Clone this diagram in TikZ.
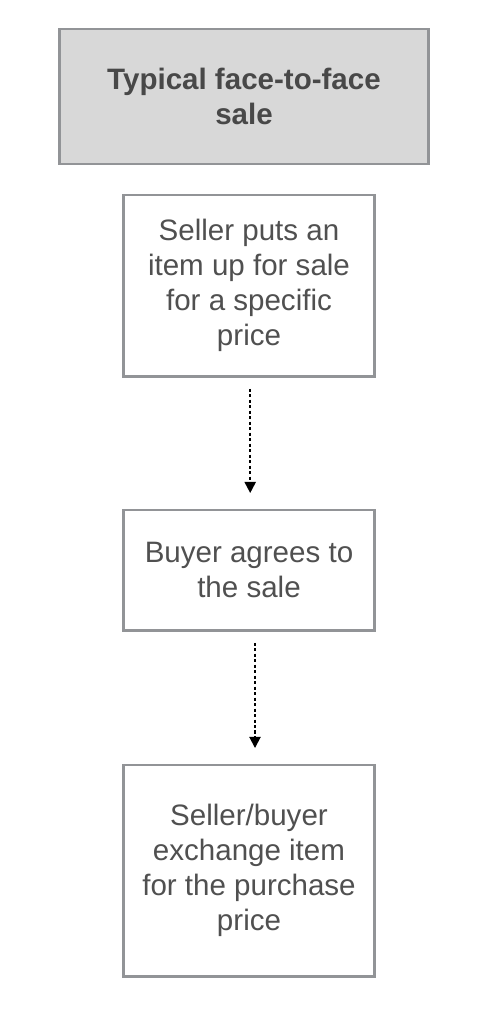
\documentclass[tikz,border=0pt]{standalone}
\usepackage{fontspec}
\setmainfont{Liberation Sans}
\usetikzlibrary{arrows.meta}

\definecolor{boxline}{HTML}{929497}
\definecolor{titlefill}{HTML}{D8D8D8}
\definecolor{txtgray}{HTML}{505050}

\tikzset{
  stepbox/.style={draw=boxline,line width=2.1pt,fill=white,text=txtgray,
                  minimum width=6.25cm,align=center,inner sep=0pt,
                  font=\fontsize{21}{24.8}\selectfont},
  titlebox/.style={stepbox,fill=titlefill,minimum width=9.2cm,
                   minimum height=3.375cm,text=txtgray!90!black,
                   font=\fontsize{21}{24.8}\selectfont\bfseries},
  flow/.style={-{Triangle[length=8pt,width=8pt]},line width=1.3pt,
               dash pattern=on 2.3pt off 1.6pt,shorten >=11pt,shorten <=8pt}
}

\begin{document}
\begin{tikzpicture}[x=0.025cm,y=-0.025cm]

  % ---- page frame ------------------------------------------------------
  \useasboundingbox (0,0) rectangle (492,1020);

  % ---- heading ---------------------------------------------------------
  \node[titlebox] (title) at (244,96.5)
        {Typical face-to-face\\sale};

  % ---- the three steps -------------------------------------------------
  \node[stepbox,minimum height=4.525cm] (offer) at (249,285.5)
        {Seller puts an\\item up for sale\\for a specific\\price};
  \node[stepbox,minimum height=3.0cm] (agree) at (249,570)
        {Buyer agrees to\\the sale};
  \node[stepbox,minimum height=5.275cm] (trade) at (249,870.5)
        {Seller/buyer\\exchange item\\for the purchase\\price};

  % ---- dotted flow arrows ----------------------------------------------
  \draw[flow] ([xshift=0.03cm]offer.south) -- ([xshift=0.03cm]agree.north);
  \draw[flow] ([xshift=0.15cm]agree.south) -- ([xshift=0.15cm]trade.north);

\end{tikzpicture}
\end{document}
